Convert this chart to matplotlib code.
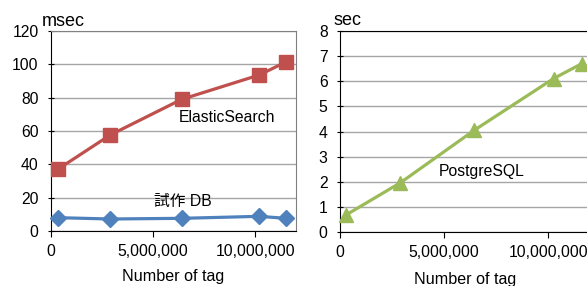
import matplotlib
matplotlib.use("Agg")
import matplotlib.pyplot as plt
from matplotlib.ticker import FuncFormatter

plt.rcParams['font.family'] = ['Liberation Sans', 'Noto Sans CJK JP', 'DejaVu Sans']

# data
tags = [330000, 2900000, 6400000, 10200000, 11500000]
elastic_ms = [37, 57.6, 79, 93.6, 101.4]
proto_ms = [8, 7.2, 7.6, 8.8, 7.6]
pg_tags = [290000, 2900000, 6450000, 10250000, 11600000]
pg_sec = [0.69, 1.97, 4.06, 6.11, 6.7]
x_ticks = [0, 5000000, 10000000]

W, H = 587, 286
fig = plt.figure(figsize=(W / 100, H / 100), dpi=100)

red = '#C0504D'
blue = '#4F81BD'
green = '#9BBB59'
grid_c = '#A6A6A6'
fs = 11.3

fmt = FuncFormatter(lambda v, p: f"{int(v):,}")


def style(ax, ymax, ystep, lab_y):
    ax.set_xlim(0, 12000000)
    ax.set_ylim(0, ymax)
    ax.set_xticks(x_ticks)
    ax.xaxis.set_major_formatter(fmt)
    ax.set_yticks(range(0, ymax + 1, ystep))
    ax.yaxis.grid(True, color=grid_c, linewidth=1.0)
    ax.set_axisbelow(True)
    for s in ['top', 'right']:
        ax.spines[s].set_color('#808080')
        ax.spines[s].set_linewidth(0.8)
    for s in ['left', 'bottom']:
        ax.spines[s].set_color('black')
        ax.spines[s].set_linewidth(0.8)
    ax.tick_params(axis='y', direction='inout', length=5, width=0.8, labelsize=fs, pad=6.5)
    ax.tick_params(axis='x', direction='out', length=4, width=0.8, labelsize=fs, pad=5)
    ax.set_xlabel('Number of tag', fontsize=fs + 0.3)
    ax.xaxis.set_label_coords(0.5, lab_y)
    ax.xaxis.label.set_va('center')


ax1 = fig.add_axes([51 / W, (H - 231) / H, 245 / W, 200 / H])
style(ax1, 120, 20, -0.225)
ax1.plot(tags, elastic_ms, color=red, lw=2.3, marker='s', ms=10, zorder=3, clip_on=False)
ax1.plot(tags, proto_ms, color=blue, lw=2.3, marker='D', ms=8.5, zorder=3, clip_on=False)
ax1.text(12.5 / 245, 1.05, 'msec', transform=ax1.transAxes, fontsize=13, ha='center', va='center')
ax1.text(8620000, 68.4, 'ElasticSearch', fontsize=fs, ha='center', va='center')
ax1.text(6470000, 18, '試作 DB', fontsize=fs, ha='center', va='center')

ax2 = fig.add_axes([340 / W, (H - 232.3) / H, 250 / W, 201.3 / H])
style(ax2, 8, 1, -0.232)
ax2.spines['top'].set_color('black')
ax2.plot(pg_tags, pg_sec, color=green, lw=2.3, marker='^', ms=10, zorder=3, clip_on=False)
ax2.text(7.5 / 250, 1.05, 'sec', transform=ax2.transAxes, fontsize=13, ha='center', va='center')
ax2.text(6800000, 2.4, 'PostgreSQL', fontsize=fs, ha='center', va='center')

fig.savefig('out.png', dpi=100)
